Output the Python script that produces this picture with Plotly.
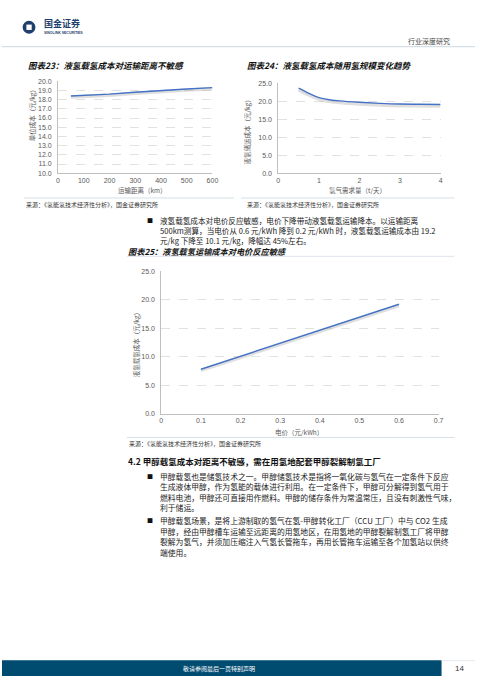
import plotly.graph_objects as go

W, H = 481, 679

# ---------------- data ----------------
dist_km = [50, 100, 200, 300, 400, 500, 600]
cost_by_dist = [18.4, 18.45, 18.6, 18.8, 19.0, 19.15, 19.3]

demand_t = [0.5, 0.75, 1.0, 1.25, 1.5, 2.0, 2.5, 3.0, 3.5, 4.0]
cost_by_demand = [23.6, 22.2, 21.0, 20.4, 20.1, 19.7, 19.4, 19.2, 19.15, 19.1]

price_kwh = [0.1, 0.2, 0.3, 0.4, 0.5, 0.6]
cost_by_price = [7.8, 10.1, 12.4, 14.7, 16.9, 19.2]

x_ticks_23 = [0, 100, 200, 300, 400, 500, 600]
y_ticks_23 = [10, 11, 12, 13, 14, 15, 16, 17, 18, 19, 20]
x_ticks_24 = [0, 1, 2, 3, 4]
y_ticks_24 = [0, 5, 10, 15, 20, 25]
x_ticks_25 = [0, 0.1, 0.2, 0.3, 0.4, 0.5, 0.6, 0.7]
y_ticks_25 = [0, 5, 10, 15, 20, 25]

FONT = "Noto Sans CJK SC"
BLUE = "#4472C4"
SHADOW = "rgba(140,140,140,0.28)"
GRID = "#d9d9d9"
AXIS = "#bfbfbf"
TICK = "#595959"


def px(x):
    return x / W


def py(y):
    return 1 - y / H


fig = go.Figure()

# shadows
fig.add_trace(go.Scatter(x=dist_km, y=[v - 0.12 for v in cost_by_dist], mode="lines",
                         line=dict(color=SHADOW, width=3.5), xaxis="x", yaxis="y",
                         hoverinfo="skip", showlegend=False))
fig.add_trace(go.Scatter(x=demand_t, y=[v - 0.45 for v in cost_by_demand], mode="lines",
                         line=dict(color=SHADOW, width=3.5, shape="spline"), xaxis="x2", yaxis="y2",
                         hoverinfo="skip", showlegend=False))
fig.add_trace(go.Scatter(x=price_kwh, y=[v - 0.25 for v in cost_by_price], mode="lines",
                         line=dict(color=SHADOW, width=3), xaxis="x3", yaxis="y3",
                         hoverinfo="skip", showlegend=False))
# lines
fig.add_trace(go.Scatter(x=dist_km, y=cost_by_dist, mode="lines",
                         line=dict(color=BLUE, width=1.4), xaxis="x", yaxis="y", showlegend=False))
fig.add_trace(go.Scatter(x=demand_t, y=cost_by_demand, mode="lines",
                         line=dict(color=BLUE, width=1.4, shape="spline"), xaxis="x2", yaxis="y2",
                         showlegend=False))
fig.add_trace(go.Scatter(x=price_kwh, y=cost_by_price, mode="lines",
                         line=dict(color=BLUE, width=1.4), xaxis="x3", yaxis="y3", showlegend=False))

tickfont = dict(family="Liberation Sans, Arial", size=7, color=TICK)


def xax(dom, rng, ticks, fmt=None):
    d = dict(domain=dom, range=rng, tickvals=ticks, showgrid=False, zeroline=False,
             showline=True, linecolor=AXIS, linewidth=1, ticks="", tickfont=tickfont,
             fixedrange=True)
    if fmt:
        d["tickformat"] = fmt
    return d


def yax(dom, rng, ticks, anchor):
    return dict(domain=dom, range=rng, tickvals=ticks, tickformat=".1f", showgrid=True,
                gridcolor=GRID, griddash="dash", gridwidth=0.8, zeroline=False,
                showline=True, linecolor=AXIS, linewidth=1, ticks="", tickfont=tickfont,
                anchor=anchor, ticklabelstandoff=4, fixedrange=True)


fig.update_layout(
    width=W, height=H, margin=dict(l=0, r=0, t=0, b=0),
    paper_bgcolor="white", plot_bgcolor="white", showlegend=False,
    xaxis=dict(xax([px(57), px(214)], [0, 600], x_ticks_23), anchor="y"),
    yaxis=yax([py(171), py(78)], [10, 20], y_ticks_23, "x"),
    xaxis2=dict(xax([px(281), px(446)], [0, 4], x_ticks_24), anchor="y2"),
    yaxis2=yax([py(171), py(80)], [0, 25], y_ticks_24, "x2"),
    xaxis3=dict(xax([px(162), px(444)], [0, 0.7], x_ticks_25), anchor="y3"),
    yaxis3=yax([py(414), py(270)], [0, 25], y_ticks_25, "x3"),
)

ann = []


def text(x, y, s, size=8, color="#222", xanchor="left", bold=False, italic=False, angle=0,
         family=FONT):
    f = dict(family=family, size=size, color=color)
    if bold:
        f["weight"] = "bold"
    if italic:
        f["style"] = "italic"
    ann.append(dict(x=px(x), y=py(y), xref="paper", yref="paper", text=s, showarrow=False,
                    xanchor=xanchor, yanchor="middle", font=f, textangle=angle, borderpad=0))


# header
text(42, 20, "国金证券", size=9, color="#1f3f6e", bold=True)
text(42, 29, "SINOLINK SECURITIES", size=3.5, color="#1f3f6e", bold=True,
     family="Liberation Sans, Arial")
text(457, 37, "行业深度研究", size=7, color="#444", xanchor="right")

# chart titles
text(25, 62, "图表23：液氢载氢成本对运输距离不敏感", size=8.5, color="#111", bold=True, italic=True)
text(248, 62, "图表24：液氢载氢成本随用氢规模变化趋势", size=8.5, color="#111", bold=True, italic=True)
text(127, 249.5, "图表25：液氢载氢运输成本对电价反应敏感", size=8.2, color="#111", bold=True, italic=True)

# axis titles
axt = dict(size=6.5, color=TICK)
text(30, 111, "单位成本（元/kg）", angle=-90, xanchor="center", **axt)
text(143, 188, "运输距离（km）", xanchor="center", **axt)
text(249, 128, "液氢储运成本（元/kg）", angle=-90, xanchor="center", **axt)
text(362, 188, "氢气需求量（t/天）", xanchor="center", **axt)
text(137, 343, "液氢载氢成本（元/kg）", angle=-90, xanchor="center", **axt)
text(302, 432, "电价（元/kWh）", xanchor="center", **axt)

# sources
src = "来源：《氢能氢技术经济性分析》，国金证券研究所"
text(23, 203, src, size=6, color="#333")
text(248, 203, src, size=6, color="#333")
text(128, 444, src, size=6, color="#333")

# bullet paragraph 1
body = dict(size=7.6, color="#1a1a1a")
text(146, 218.5, "■", size=6, color="#111")
para1 = [
    "液氢载氢成本对电价反应敏感，电价下降带动液氢载氢运输降本。以运输距离",
    "500km测算，当电价从 0.6 元/kWh 降到 0.2 元/kWh 时，液氢载氢运输成本由 19.2",
    "元/kg 下降至 10.1 元/kg，降幅达 45%左右。",
]
for i, s in enumerate(para1):
    text(160, 218.5 + i * 10, s, **body)

# section heading
text(127, 462, "4.2 甲醇载氢成本对距离不敏感，需在用氢地配套甲醇裂解制氢工厂", size=8.5,
     color="#111", bold=True)

para2 = [
    "甲醇载氢也是储氢技术之一。甲醇储氢技术是指将一氧化碳与氢气在一定条件下反应",
    "生成液体甲醇，作为氢能的载体进行利用。在一定条件下，甲醇可分解得到氢气用于",
    "燃料电池，甲醇还可直接用作燃料。甲醇的储存条件为常温常压，且没有刺激性气味，",
    "利于储运。",
]
para3 = [
    "甲醇载氢场景，是将上游制取的氢气在氢-甲醇转化工厂（CCU 工厂）中与 CO2 生成",
    "甲醇，经由甲醇槽车运输至远距离的用氢地区，在用氢地的甲醇裂解制氢工厂将甲醇",
    "裂解为氢气，并须加压缩注入气氢长管拖车，再用长管拖车运输至各个加氢站以供终",
    "端使用。",
]
body2 = dict(size=7.8, color="#1a1a1a")
text(146, 477, "■", size=6, color="#111")
for i, s in enumerate(para2):
    text(160, 477 + i * 10.6, s, **body2)
text(146, 522, "■", size=6, color="#111")
for i, s in enumerate(para3):
    text(160, 522 + i * 10.6, s, **body2)

# footer
text(221, 671, "敬请参阅最后一页特别声明", size=6, color="white", xanchor="center")
text(465, 671, "14", size=8, color="#333", xanchor="center", family="Liberation Sans, Arial")

fig.update_layout(annotations=ann)

shapes = []


def rect(x0, y0, x1, y1, color):
    shapes.append(dict(type="rect", xref="paper", yref="paper", x0=px(x0), x1=px(x1),
                       y0=py(y1), y1=py(y0), fillcolor=color, line=dict(width=0),
                       layer="below"))


def hline(x0, x1, y, color, width=1):
    shapes.append(dict(type="line", xref="paper", yref="paper", x0=px(x0), x1=px(x1),
                       y0=py(y), y1=py(y), line=dict(color=color, width=width)))


# logo
shapes.append(dict(type="circle", xref="paper", yref="paper", x0=px(21), x1=px(34),
                   y0=py(30), y1=py(17), fillcolor="#1f3f6e", line=dict(width=0)))
shapes.append(dict(type="rect", xref="paper", yref="paper", x0=px(24.8), x1=px(30.2),
                   y0=py(26.2), y1=py(20.8), fillcolor="white", line=dict(width=0)))
hline(0, 481, 43, "#d5dfe6", 1.2)
hline(127, 460, 255, "#e3e9ee", 1.2)
hline(22, 236, 196, "#d5dfe6", 1)
hline(243, 460, 196, "#d5dfe6", 1)
hline(127, 460, 438, "#d5dfe6", 1)
rect(0, 663, 447, 679, "#004b70")
hline(447, 481, 663.5, "#e3e9ee", 1)

fig.update_layout(shapes=shapes)

fig.write_html(
    "out.html",
    config={"displayModeBar": False, "staticPlot": True},
    post_script="document.body.style.margin='0';document.body.style.overflow='hidden';"
                "document.documentElement.style.overflow='hidden';",
)
